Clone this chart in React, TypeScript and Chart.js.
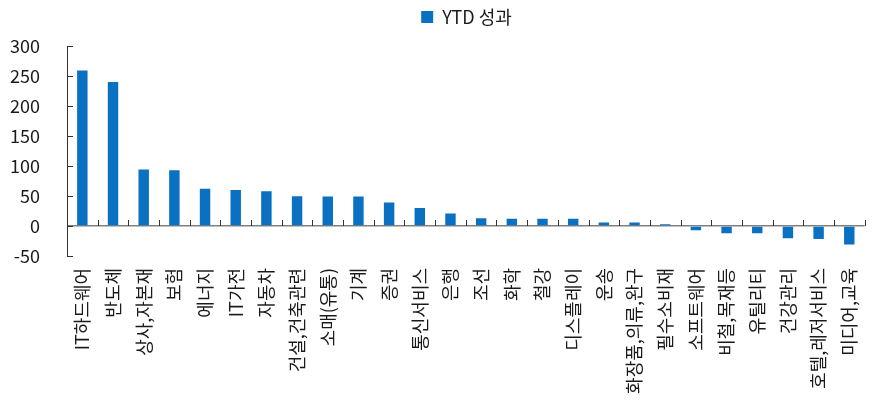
import React, { useEffect, useRef } from "react";
import { Chart, registerables } from "chart.js";

Chart.register(...registerables);

const categories = [
  "IT하드웨어", "반도체", "상사,자본재", "보험", "에너지", "IT가전", "자동차",
  "건설,건축관련", "소매(유통)", "기계", "증권", "통신서비스", "은행", "조선",
  "화학", "철강", "디스플레이", "운송", "화장품,의류,완구", "필수소비재",
  "소프트웨어", "비철,목재등", "유틸리티", "건강관리", "호텔,레저서비스", "미디어,교육",
];
const ytdValues = [
  259, 240, 94, 93, 62, 60, 58, 49.5, 49, 49, 39, 30, 21, 13,
  12, 12, 12, 6, 6, 3, -7, -12, -12, -20.5, -21.5, -31,
];
const seriesLabel = "YTD 성과";
const yMin = -50;
const yMax = 300;
const yStep = 50;

const FONT = "'Noto Sans CJK KR', 'Noto Sans', sans-serif";
const BLUE = "#0A70C2";
const TEXT = "#1a1a1a";

const tickPlugin = {
  id: "axisTicks",
  afterDraw(chart: any) {
    const { ctx, scales, chartArea } = chart;
    const x = scales.x;
    const y = scales.y;
    const y0 = y.getPixelForValue(0);
    ctx.save();
    ctx.strokeStyle = "#333";
    ctx.lineWidth = 1;
    ctx.beginPath();
    for (let i = 0; i <= categories.length; i++) {
      const px = Math.round(x.getPixelForValue(i - 0.5)) + 0.5;
      ctx.moveTo(px, y0);
      ctx.lineTo(px, y0 - 6);
    }
    for (const t of y.ticks) {
      const py = Math.round(y.getPixelForValue(t.value)) + 0.5;
      ctx.moveTo(chartArea.left, py);
      ctx.lineTo(chartArea.left + 6, py);
    }
    ctx.stroke();
    ctx.restore();
  },
};

const legendMargin = {
  id: "legendMargin",
  beforeInit(chart: any) {
    const legend = chart.legend;
    if (!legend) return;
    const orig = legend.fit;
    legend.fit = function () {
      orig.call(this);
      this.height += 10;
    };
  },
  afterLayout(chart: any) {
    const legend = chart.legend;
    if (!legend) return;
    legend.left += 28;
    legend.right += 28;
  },
};

export default function App() {
  const ref = useRef<HTMLCanvasElement>(null);
  useEffect(() => {
    document.body.style.margin = "0";
    const chart = new Chart(ref.current as HTMLCanvasElement, {
      type: "bar",
      data: {
        labels: categories,
        datasets: [
          {
            label: seriesLabel,
            data: ytdValues,
            backgroundColor: BLUE,
            borderWidth: 0,
            barPercentage: 1,
            categoryPercentage: 0.34,
          },
        ],
      },
      options: {
        responsive: true,
        maintainAspectRatio: false,
        animation: false,
        layout: { padding: { top: 0, right: 6, left: 0, bottom: 0 } },
        plugins: {
          legend: {
            position: "top",
            labels: {
              boxWidth: 12,
              boxHeight: 12,
              color: TEXT,
              font: { family: FONT, size: 18 },
              padding: 8,
            },
          },
          tooltip: { enabled: false },
        },
        scales: {
          x: {
            grid: { display: false, drawTicks: false },
            border: { display: false },
            ticks: {
              autoSkip: false,
              minRotation: 90,
              maxRotation: 90,
              padding: 12,
              color: TEXT,
              font: { family: FONT, size: 18 },
            },
            afterFit(scale: any) {
              scale.height = 156;
            },
          },
          y: {
            min: yMin,
            max: yMax,
            ticks: {
              stepSize: yStep,
              padding: 27,
              color: TEXT,
              font: { family: FONT, size: 18 },
            },
            grid: {
              drawTicks: false,
              color: (c: any) => (c.tick && c.tick.value === 0 ? "#808080" : "rgba(0,0,0,0)"),
              lineWidth: (c: any) => (c.tick && c.tick.value === 0 ? 1.5 : 0),
            },
            border: { display: true, color: "#333", width: 1 },
            afterFit(scale: any) {
              scale.width = 67;
            },
          },
        },
      },
      plugins: [tickPlugin, legendMargin],
    });
    return () => chart.destroy();
  }, []);
  return (
    <div style={{ position: "relative", width: 883, height: 412 }}>
      <canvas ref={ref} />
    </div>
  );
}
